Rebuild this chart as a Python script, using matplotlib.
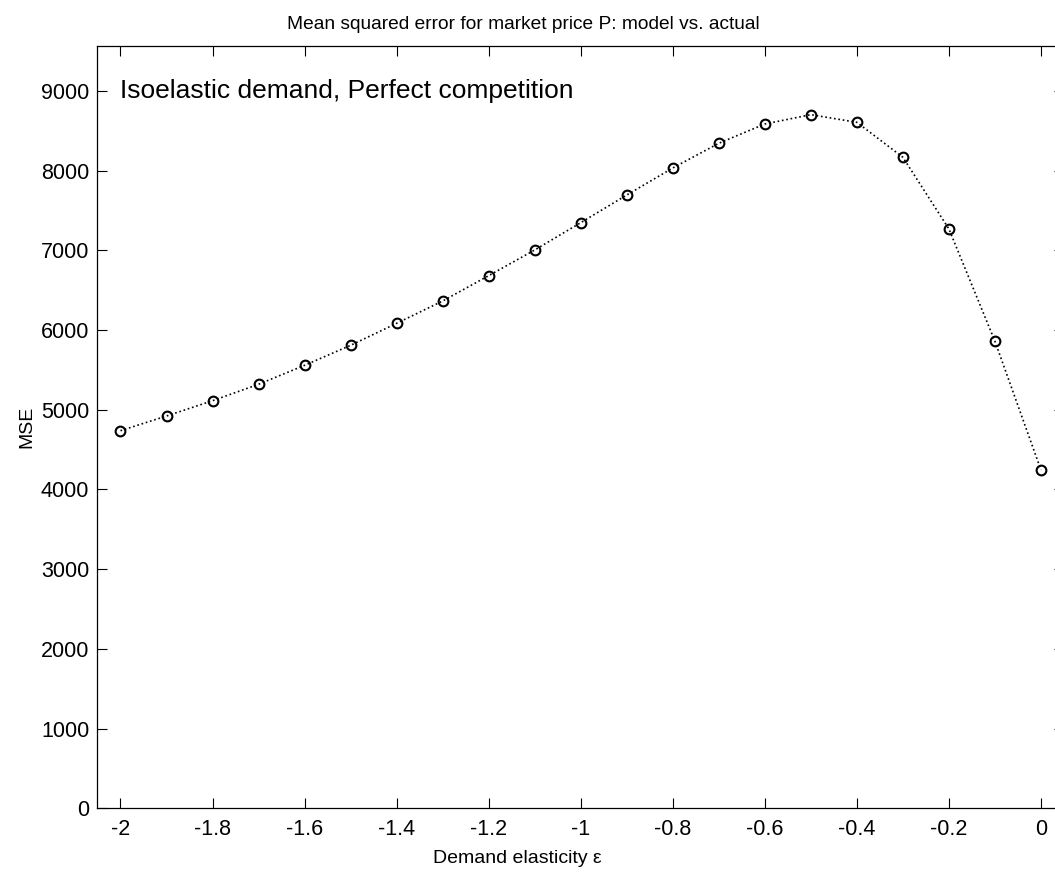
import numpy as np
import matplotlib
matplotlib.use('Agg')
from matplotlib import pyplot as plt

plt.rcParams['font.family'] = ['Liberation Sans', 'DejaVu Sans']

# demand elasticity vs mean squared error
elasticity = [-2.0, -1.9, -1.8, -1.7, -1.6, -1.5, -1.4, -1.3, -1.2, -1.1, -1.0,
              -0.9, -0.8, -0.7, -0.6, -0.5, -0.4, -0.3, -0.2, -0.1, 0.0]
mse = [4738, 4922, 5114, 5320, 5558, 5809, 6085, 6365, 6683, 7005, 7348,
       7695, 8034, 8344, 8586, 8703, 8607, 8168, 7269, 5860, 4245]

xticks = [-2, -1.8, -1.6, -1.4, -1.2, -1, -0.8, -0.6, -0.4, -0.2, 0]
xticklabels = ['-2', '-1.8', '-1.6', '-1.4', '-1.2', '-1', '-0.8', '-0.6', '-0.4', '-0.2', '0']
yticks = [0, 1000, 2000, 3000, 4000, 5000, 6000, 7000, 8000, 9000]

fig = plt.figure(figsize=(10.55, 8.74), dpi=100)
ax = fig.add_axes([0.0924, 0.0752, 0.9161, 0.8722])

ax.plot(elasticity, mse, 'k:', lw=1.2, marker='o', markersize=7,
        markerfacecolor='none', markeredgecolor='k', markeredgewidth=1.5)

ax.set_xlim(-2.05, 0.05)
ax.set_ylim(0, 9565)
ax.set_xticks(xticks)
ax.set_xticklabels(xticklabels)
ax.set_yticks(yticks)
ax.tick_params(direction='in', length=7, width=0.8, labelsize=15.5,
               top=True, right=True)
ax.tick_params(axis='x', pad=8)
ax.tick_params(axis='y', pad=6)
for s in ax.spines.values():
    s.set_linewidth(0.9)

ax.text(-2.0, 9000, 'Isoelastic demand, Perfect competition', fontsize=19,
        ha='left', va='center')
ax.set_title('Mean squared error for market price P: model vs. actual',
             fontsize=13.8, pad=12, x=0.441)
ax.set_xlabel('Demand elasticity ε', fontsize=14, labelpad=7)
ax.xaxis.label.set_x(0.434)
ax.set_ylabel('MSE', fontsize=14, labelpad=4)

plt.savefig('out.png', dpi=100)
